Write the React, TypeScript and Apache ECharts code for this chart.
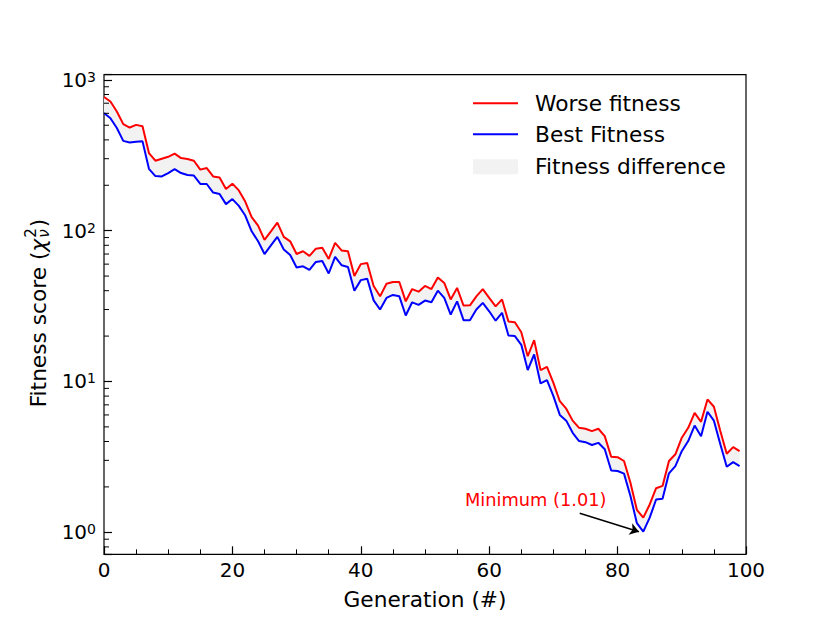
import React, { useEffect, useRef } from "react";
import * as echarts from "echarts";

const generations: number[] = Array.from({ length: 100 }, (_, i) => i);

const worstFitness: number[] = [
  770, 718, 617, 509, 483, 503, 493, 327, 291, 300,
  309, 324, 303, 299, 291, 254, 260, 229, 225, 189,
  205, 185, 156, 123, 108, 87, 99, 113, 91, 85,
  70, 73, 68, 76, 77, 65, 83, 74, 73, 50,
  60, 61, 43, 36.7, 44.5, 45.7, 45.7, 34, 41, 39.4,
  43, 41, 49, 45, 35, 41.7, 31.9, 32, 36.7, 41,
  35.8, 31.5, 35, 25, 24.7, 21.2, 14.7, 18.8, 11.9, 12.5,
  9.8, 7.4, 6.6, 5.5, 4.93, 4.86, 4.69, 4.86, 4.34, 3.17,
  3.15, 2.97, 2.13, 1.41, 1.25, 1.53, 1.96, 2.03, 2.97, 3.29,
  4.24, 4.93, 6.2, 5.4, 7.6, 6.8, 4.69, 3.32, 3.67, 3.45,
];

const bestFitness: number[] = [
  603, 557, 480, 394, 384, 389, 391, 257, 230, 229,
  241, 256, 241, 234, 232, 204, 204, 179, 175, 150,
  162, 146, 126, 99, 85, 70, 80, 91, 75, 69,
  57, 58, 55, 62, 63, 52, 67, 59, 57.5, 40,
  47, 48, 34.5, 30, 35.8, 37.5, 36.7, 27.4, 33.5, 32.2,
  34.4, 33.5, 40, 35.8, 27.8, 34, 25.5, 25.5, 30, 33.2,
  29.2, 25.3, 28.5, 20.2, 20, 17.5, 11.9, 15.1, 9.7, 10.2,
  8.0, 6.0, 5.5, 4.57, 4.03, 3.96, 3.79, 3.92, 3.55, 2.57,
  2.55, 2.45, 1.74, 1.15, 1.01, 1.25, 1.65, 1.67, 2.46, 2.75,
  3.45, 4.03, 5.1, 4.34, 6.3, 5.5, 3.83, 2.72, 2.92, 2.75,
];

const yMinorTickValues: number[] = [
  0.8, 0.9,
  2, 3, 4, 5, 6, 7, 8, 9,
  20, 30, 40, 50, 60, 70, 80, 90,
  200, 300, 400, 500, 600, 700, 800, 900,
];

const xTickInterval = 20;
const xMin = 0;
const xMax = 100;
const yMin = 0.7147;
const yMax = 1082;

const minimumLabel = "Minimum (1.01)";
const arrowStart: [number, number] = [74.1, 1.337];
const arrowEnd: [number, number] = [83.33, 1.009];

const seriesNames = ["Worse fitness", "Best Fitness", "Fitness difference"];

const FONT = "DejaVu Sans";
const RED = "#ff0000";
const BLUE = "#0000ff";
const FILL = "#f2f2f2";

const TICK_FS = 20;
const TITLE_FS = 21.7;
const ANNOT_FS = 17.8;

function measure(text: string, size: number, italic = false): number {
  const c = document.createElement("canvas");
  const ctx = c.getContext("2d");
  if (!ctx) return text.length * size * 0.6;
  ctx.font = `${italic ? "italic " : ""}${size}px "${FONT}"`;
  return ctx.measureText(text).width;
}

export default function App() {
  const ref = useRef<HTMLDivElement>(null);

  useEffect(() => {
    if (!ref.current) return;
    const chart = echarts.init(ref.current, undefined, { renderer: "svg" });

    const big = TITLE_FS;
    const small = 15.2;
    const t1 = "Fitness score (";
    const w1 = measure(t1, big);
    const wChi = measure("χ", big, true);
    const wSup = Math.max(measure("2", small), measure("ν", small, true));
    const wP = measure(")", big);
    const total = w1 + wChi + 1 + wSup + 1 + wP;
    const x0 = -total / 2;
    const baseStyle = { fontFamily: FONT, fill: "#000", verticalAlign: "middle", align: "left" };

    const option: any = {
      animation: false,
      backgroundColor: "#ffffff",
      grid: {
        left: 104,
        right: 84,
        top: 74.7,
        bottom: 68.7,
        show: true,
        borderColor: "#000",
        borderWidth: 1.2,
        backgroundColor: "transparent",
      },
      xAxis: {
        type: "value",
        min: xMin,
        max: xMax,
        interval: xTickInterval,
        splitLine: { show: false },
        axisLine: { show: false },
        axisTick: { show: true, inside: true, length: 8, lineStyle: { color: "#000", width: 1.2 } },
        minorTick: { show: true, splitNumber: 4, length: 5, lineStyle: { color: "#000", width: 1 } },
        axisLabel: { color: "#000", fontSize: TICK_FS, fontFamily: FONT, margin: 6 },
        name: "Generation (#)",
        nameLocation: "middle",
        nameGap: 34,
        nameTextStyle: { color: "#000", fontSize: TITLE_FS, fontFamily: FONT },
      },
      yAxis: {
        type: "log",
        logBase: 10,
        min: yMin,
        max: yMax,
        splitLine: { show: false },
        axisLine: { show: false },
        axisTick: { show: true, inside: true, length: 8, lineStyle: { color: "#000", width: 1.2 } },
        axisLabel: {
          color: "#000",
          fontFamily: FONT,
          margin: 8,
          formatter: (v: number) => {
            const lg = Math.log10(v);
            const e = Math.round(lg);
            if (Math.abs(lg - e) > 1e-6) return "";
            return `{b|10}{s|${e}}`;
          },
          rich: {
            b: { fontSize: TICK_FS, fontFamily: FONT, color: "#000", verticalAlign: "bottom", lineHeight: 20, height: 20 },
            s: { fontSize: 14, fontFamily: FONT, color: "#000", verticalAlign: "top", lineHeight: 14, height: 14 },
          },
        },
      },
      series: [
        {
          name: seriesNames[2],
          type: "custom",
          data: generations.map((g, i) => [g, bestFitness[i], worstFitness[i]]),
          encode: { x: 0, y: [1, 2] },
          itemStyle: { color: FILL },
          z: 1,
          silent: true,
          renderItem: (params: any, api: any) => {
            if (params.dataIndex !== 0) return null;
            const upper = generations.map((g, i) => api.coord([g, worstFitness[i]]));
            const lower = generations.map((g, i) => api.coord([g, bestFitness[i]])).reverse();
            return {
              type: "polygon",
              shape: { points: upper.concat(lower) },
              style: { fill: FILL, stroke: "none" },
            };
          },
        },
        {
          name: seriesNames[0],
          type: "line",
          data: generations.map((g, i) => [g, worstFitness[i]]),
          symbol: "none",
          lineStyle: { color: RED, width: 2 },
          itemStyle: { color: RED },
          z: 3,
        },
        {
          name: seriesNames[1],
          type: "line",
          data: generations.map((g, i) => [g, bestFitness[i]]),
          symbol: "none",
          lineStyle: { color: BLUE, width: 2 },
          itemStyle: { color: BLUE },
          z: 4,
          markLine: {
            silent: true,
            symbol: ["none", "arrow"],
            symbolSize: 9,
            label: { show: false },
            lineStyle: { color: "#000", width: 1.4, type: "solid" },
            data: [[{ coord: arrowStart }, { coord: arrowEnd }]],
          },
        },
        {
          name: "yMinorTicks",
          type: "custom",
          data: yMinorTickValues.map((v) => [xMin, v]),
          encode: { x: 0, y: 1 },
          z: 5,
          silent: true,
          clip: false,
          renderItem: (params: any, api: any) => {
            const p = api.coord([api.value(0), api.value(1)]);
            return {
              type: "line",
              shape: { x1: p[0], y1: p[1], x2: p[0] + 5, y2: p[1] },
              style: { stroke: "#000", lineWidth: 1 },
            };
          },
        },
      ],
      graphic: [
        { type: "line", shape: { x1: 473, y1: 103.3, x2: 518, y2: 103.3 }, style: { stroke: RED, lineWidth: 2 } },
        { type: "text", x: 535, y: 103, style: { ...baseStyle, text: seriesNames[0], fontSize: TITLE_FS } },
        { type: "line", shape: { x1: 473, y1: 134.3, x2: 518, y2: 134.3 }, style: { stroke: BLUE, lineWidth: 2 } },
        { type: "text", x: 535, y: 134.5, style: { ...baseStyle, text: seriesNames[1], fontSize: TITLE_FS } },
        { type: "rect", shape: { x: 473, y: 159.3, width: 45, height: 15 }, style: { fill: FILL } },
        { type: "text", x: 535, y: 166.5, style: { ...baseStyle, text: seriesNames[2], fontSize: TITLE_FS } },
        { type: "text", x: 465, y: 499.3, style: { ...baseStyle, text: minimumLabel, fontSize: ANNOT_FS, fill: RED } },
        {
          type: "group",
          x: 38,
          y: 313,
          rotation: Math.PI / 2,
          children: [
            { type: "text", x: x0, y: 0, style: { ...baseStyle, text: t1, fontSize: big } },
            { type: "text", x: x0 + w1, y: 0, style: { ...baseStyle, text: "χ", fontSize: big, fontStyle: "italic" } },
            { type: "text", x: x0 + w1 + wChi + 1, y: -7, style: { ...baseStyle, text: "2", fontSize: small } },
            { type: "text", x: x0 + w1 + wChi + 1, y: 6, style: { ...baseStyle, text: "ν", fontSize: small, fontStyle: "italic" } },
            { type: "text", x: x0 + w1 + wChi + 1 + wSup + 1, y: 0, style: { ...baseStyle, text: ")", fontSize: big } },
          ],
        },
      ],
    };

    chart.setOption(option);
    return () => chart.dispose();
  }, []);

  return (
    <div
      ref={ref}
      style={{ position: "fixed", left: 0, top: 0, width: 830, height: 623, background: "#fff" }}
    />
  );
}
